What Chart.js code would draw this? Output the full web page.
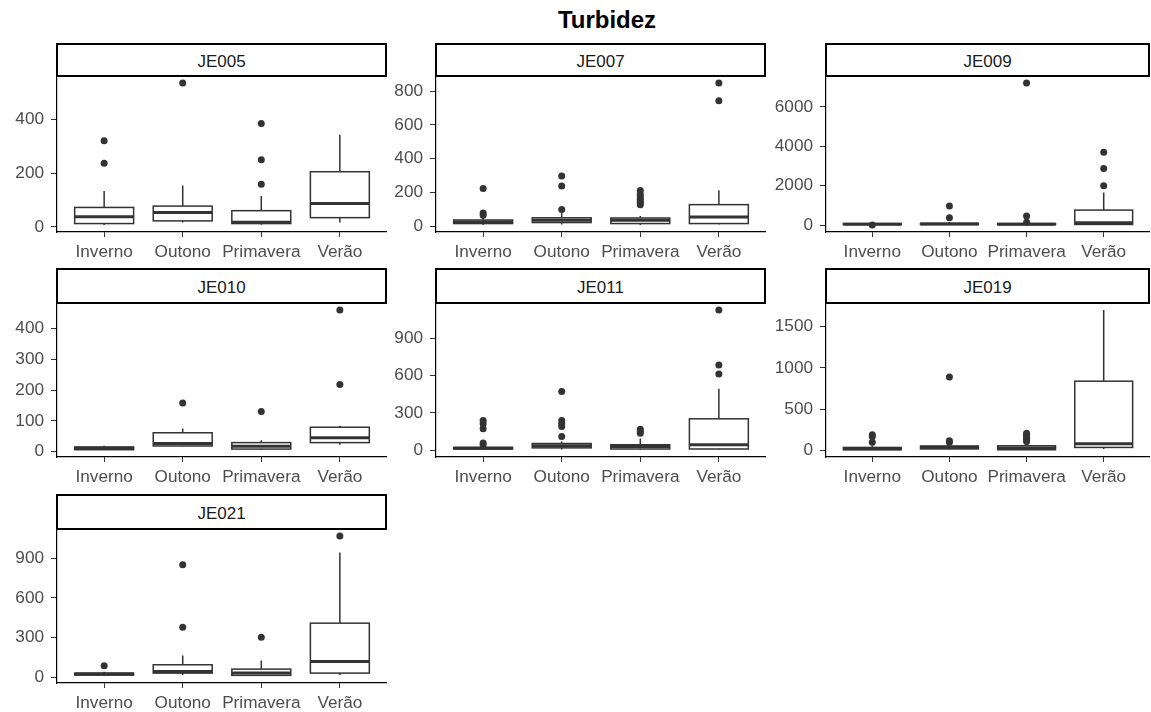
<!DOCTYPE html>
<html>
<head>
<meta charset="utf-8">
<script src="https://cdn.jsdelivr.net/npm/chart.js@4.4.1/dist/chart.umd.min.js"></script>
<style>
body { margin: 0; background: #fff; width: 1151px; height: 712px; overflow: hidden; position: relative;
       font-family: "Liberation Sans", Arial, sans-serif; }
#title { position: absolute; left: 507px; top: 8px; width: 200px; text-align: center;
         font-size: 24px; line-height: 24px; font-weight: bold; color: #000; }
.strip { position: absolute; box-sizing: border-box; border: 2px solid #000; background: #fff;
         display: flex; align-items: center; justify-content: center; padding-top: 3px;
         font-size: 17px; color: #1a1a1a; }
canvas { position: absolute; }
</style>
</head>
<body>
<div id="title">Turbidez</div>
<script>
// Estações e estações do ano
const stations = ['JE005', 'JE007', 'JE009', 'JE010', 'JE011', 'JE019', 'JE021'];
const seasons = ['Inverno', 'Outono', 'Primavera', 'Verão'];

// Estatísticas dos boxplots (uma linha por estação, uma coluna por estação do ano)
const lowWhisker = [
    [7, 16, 8, 16],
    [8, 10, 8, 10],
    [25, 20, 15, 20],
    [5, 17, 6, 22],
    [3, 8, 5, 5],
    [5, 10, 5, 16],
    [8, 15, 8, 15]
];
const q1 = [
    [12, 22, 12, 34],
    [16, 22, 16, 16],
    [30, 30, 25, 34],
    [6, 18, 8, 29],
    [11, 20, 11, 11],
    [8, 18, 8, 36],
    [15, 30, 13, 30]
];
const medians = [
    [37, 53, 17, 87],
    [25, 35, 35, 55],
    [45, 50, 45, 118],
    [10, 26, 17, 45],
    [18, 37, 32, 45],
    [20, 36, 28, 80],
    [23, 43, 30, 118]
];
const q3 = [
    [72, 77, 60, 205],
    [37, 50, 49, 128],
    [80, 90, 80, 761],
    [15, 61, 29, 79],
    [24, 55, 45, 253],
    [36, 54, 56, 838],
    [30, 93, 60, 408]
];
const highWhisker = [
    [133, 154, 115, 343],
    [50, 78, 61, 213],
    [130, 160, 110, 1656],
    [19, 75, 37, 84],
    [34, 72, 95, 493],
    [60, 70, 75, 1700],
    [40, 164, 126, 943]
];
const outliers = [
    [[237, 320], [535], [158, 250, 385], []],
    [[65, 79, 223], [100, 238, 298], [128, 138, 148, 160, 175, 190, 212], [743, 848]],
    [[10], [370, 964], [150, 460, 7210], [1994, 2873, 3701]],
    [[], [158], [130], [218, 460]],
    [[45, 59, 173, 213, 240], [112, 192, 213, 240, 471], [138, 152, 170], [612, 684, 1125]],
    [[100, 168, 189], [100, 116, 890], [108, 128, 148, 168, 189, 208], []],
    [[86], [378, 850], [302], [1068]]
];
const yTicks = [
    [0, 200, 400],
    [0, 200, 400, 600, 800],
    [0, 2000, 4000, 6000],
    [0, 100, 200, 300, 400],
    [0, 300, 600, 900],
    [0, 500, 1000, 1500],
    [0, 300, 600, 900]
];

// Layout dos painéis (facets)
const colLeft = [57, 436, 826];
const colWidth = [330, 330, 324];
const stripTop = [43, 268, 494];
const panelTop = [76, 303, 529];
const panelBottom = [232, 457, 683];
const Y_AXIS_W = 57;
const X_AXIS_H = 36;
const BOX_WIDTH = 0.75;

const tickFont = { family: '"Liberation Sans", Arial, sans-serif', size: 17.2 };
const tickColor = '#4d4d4d';

// Desenha caixas, bigodes e medianas usando as escalas do gráfico
const boxPlugin = {
    id: 'boxes',
    beforeDatasetsDraw(chart, args, opts) {
        const k = opts.panel;
        const { ctx } = chart;
        const x = chart.scales.x, y = chart.scales.y;
        ctx.save();
        ctx.strokeStyle = '#333333';
        ctx.fillStyle = '#ffffff';
        seasons.forEach((s, i) => {
            const cx = x.getPixelForValue(i + 1);
            const left = x.getPixelForValue(i + 1 - BOX_WIDTH / 2);
            const right = x.getPixelForValue(i + 1 + BOX_WIDTH / 2);
            const yLow = y.getPixelForValue(lowWhisker[k][i]);
            const yQ1 = y.getPixelForValue(q1[k][i]);
            const yMed = y.getPixelForValue(medians[k][i]);
            const yQ3 = y.getPixelForValue(q3[k][i]);
            const yHigh = y.getPixelForValue(highWhisker[k][i]);

            ctx.lineWidth = 1.5;
            ctx.beginPath();
            ctx.moveTo(cx, yHigh); ctx.lineTo(cx, yQ3);
            ctx.moveTo(cx, yQ1); ctx.lineTo(cx, yLow);
            ctx.stroke();

            ctx.fillRect(left, yQ3, right - left, yQ1 - yQ3);
            ctx.strokeRect(left, yQ3, right - left, yQ1 - yQ3);

            ctx.lineWidth = 3;
            ctx.beginPath();
            ctx.moveTo(left, yMed); ctx.lineTo(right, yMed);
            ctx.stroke();
        });
        ctx.restore();
    }
};

function yRange(k) {
    const vals = lowWhisker[k].concat(highWhisker[k], outliers[k].flat());
    const lo = Math.min(...vals), hi = Math.max(...vals);
    const pad = (hi - lo) * 0.05;
    return [lo - pad, hi + pad];
}

stations.forEach((name, k) => {
    const row = Math.floor(k / 3), col = k % 3;
    const pw = colWidth[col];
    const ph = panelBottom[row] - panelTop[row];

    const strip = document.createElement('div');
    strip.className = 'strip';
    strip.textContent = name;
    strip.style.left = (colLeft[col] - 1) + 'px';
    strip.style.top = stripTop[row] + 'px';
    strip.style.width = (pw + 1) + 'px';
    strip.style.height = (panelTop[row] - stripTop[row] + 1) + 'px';
    document.body.appendChild(strip);

    const canvas = document.createElement('canvas');
    canvas.width = Y_AXIS_W + pw;
    canvas.height = ph + X_AXIS_H;
    canvas.style.left = (colLeft[col] - Y_AXIS_W) + 'px';
    canvas.style.top = panelTop[row] + 'px';
    document.body.appendChild(canvas);

    const points = [];
    outliers[k].forEach((vals, i) => vals.forEach(v => points.push({ x: i + 1, y: v })));
    const [yMin, yMax] = yRange(k);

    new Chart(canvas, {
        type: 'scatter',
        data: {
            datasets: [{
                data: points,
                pointRadius: 3.5,
                pointHoverRadius: 3.5,
                pointBackgroundColor: '#333333',
                pointBorderWidth: 0
            }]
        },
        options: {
            responsive: false,
            animation: false,
            events: [],
            layout: { padding: 0, autoPadding: false },
            plugins: {
                legend: { display: false },
                tooltip: { enabled: false },
                boxes: { panel: k }
            },
            scales: {
                x: {
                    type: 'linear',
                    min: 0.4,
                    max: 4.6,
                    afterBuildTicks: s => { s.ticks = seasons.map((_, i) => ({ value: i + 1 })); },
                    ticks: {
                        callback: v => seasons[v - 1],
                        font: tickFont, color: tickColor, padding: 5,
                        maxRotation: 0, autoSkip: false
                    },
                    grid: { drawOnChartArea: false, tickLength: 5, color: '#333333' },
                    border: { color: '#000000', width: 1.2 },
                    afterFit: s => { s.height = X_AXIS_H; s.paddingLeft = 0; s.paddingRight = 0; }
                },
                y: {
                    min: yMin,
                    max: yMax,
                    afterBuildTicks: s => { s.ticks = yTicks[k].map(v => ({ value: v })); },
                    ticks: { font: tickFont, color: tickColor, padding: 7, callback: v => String(v) },
                    grid: { drawOnChartArea: false, tickLength: 6, color: '#333333' },
                    border: { color: '#000000', width: 1.2 },
                    afterFit: s => { s.width = Y_AXIS_W; s.paddingTop = 0; s.paddingBottom = 0; }
                }
            }
        },
        plugins: [boxPlugin]
    });
});
</script>
</body>
</html>
